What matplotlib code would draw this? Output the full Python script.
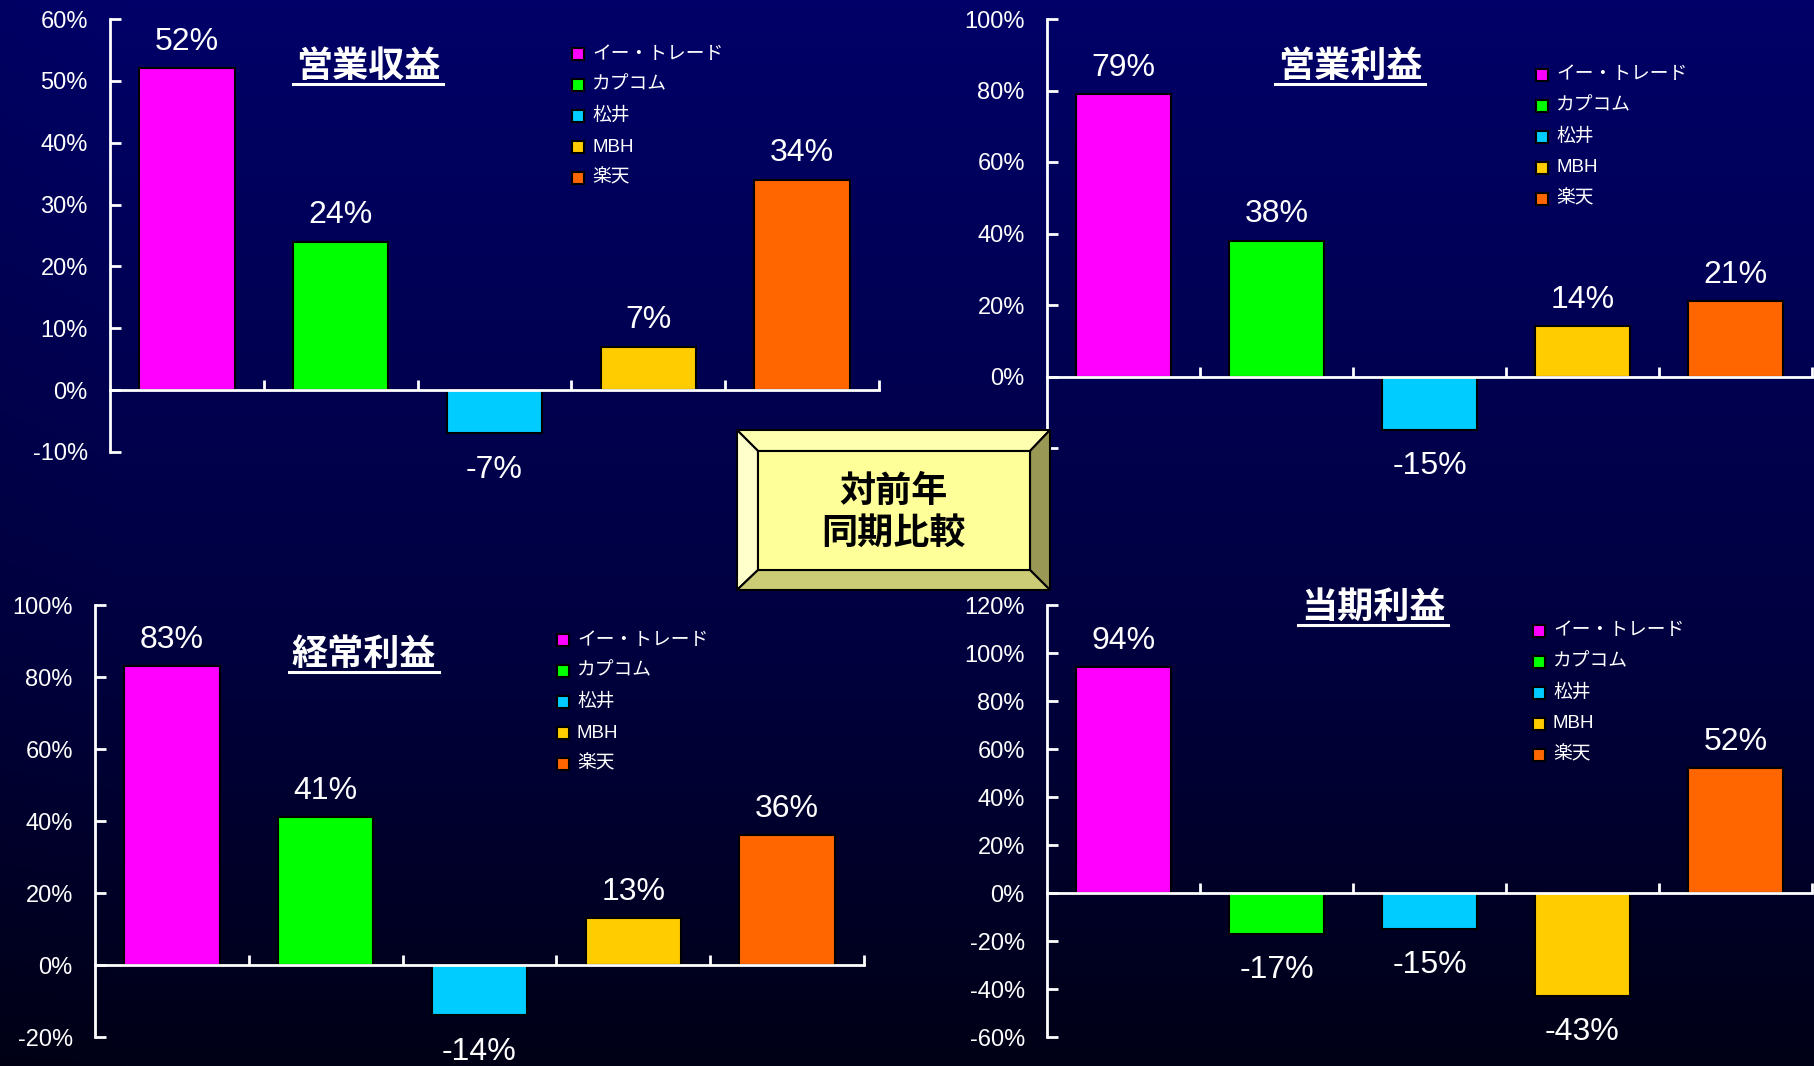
import numpy as np
import matplotlib
matplotlib.use("Agg")
import matplotlib.pyplot as plt
from matplotlib.patches import Rectangle, Polygon
from matplotlib import font_manager as fm

# ---------------- data ----------------
companies = ["イー・トレード", "カプコム", "松井", "MBH", "楽天"]
colors = ["#FF00FF", "#00FF00", "#00CCFF", "#FFCC00", "#FF6600"]

titles = ["営業収益", "営業利益", "経常利益", "当期利益"]
revenue = [52, 24, -7, 7, 34]
op_profit = [79, 38, -15, 14, 21]
ord_profit = [83, 41, -14, 13, 36]
net_profit = [94, -17, -15, -43, 52]
series = [revenue, op_profit, ord_profit, net_profit]

ylims = [(-10, 60), (-20, 100), (-20, 100), (-60, 120)]
ysteps = [10, 20, 20, 20]
center_text = "対前年\n同期比較"

# ---------------- layout (pixels) ----------------
W, H = 1814, 1066
DPI = 100
# (left, right, top, bottom) of each plot area in pixels
boxes = [(110, 879, 19, 452), (1047, 1812, 19, 448),
         (95, 864, 605, 1037), (1047, 1812, 605, 1037)]
title_pos = [(368, 66), (1350, 66), (364, 654), (1373, 607)]
legend_pos = [(578, 54), (1542, 75), (563, 640), (1539, 631)]
legend_step = 31

names = {f.name for f in fm.fontManager.ttflist}
num_font = "Liberation Sans Narrow" if "Liberation Sans Narrow" in names else "Liberation Sans"
lat = "Liberation Sans"
cjk = "Noto Sans CJK JP"

fig = plt.figure(figsize=(W / DPI, H / DPI), dpi=DPI)

# background gradient
bg = fig.add_axes([0, 0, 1, 1], zorder=-10)
ys = np.linspace(0, 1, 300)[:, None]
xs = np.linspace(0, 1, 400)[None, :]
blue = np.interp(ys, [0, 0.6, 1.0], [104, 64, 22])
hfac = 0.72 + 0.28 * np.clip(xs * W / 120, 0, 1)
blue_img = blue * (0.85 + 0.15 * hfac)
img = np.zeros((300, 400, 3))
img[..., 2] = blue_img / 255.0
bg.imshow(img, aspect="auto", extent=[0, 1, 0, 1], origin="upper")
bg.set_xlim(0, 1)
bg.set_ylim(0, 1)
bg.axis("off")


def fx(px):
    return px / W


def fy(py):
    return 1 - py / H


for i in range(4):
    l, r, t, b = boxes[i]
    ax = fig.add_axes([fx(l), fy(b), (r - l) / W, (b - t) / H])
    ax.set_facecolor("none")
    vals = series[i]
    x = np.arange(len(vals))
    ax.bar(x, vals, width=0.62, color=colors, edgecolor="black", linewidth=1.5, zorder=3)
    lo, hi = ylims[i]
    ax.set_ylim(lo, hi)
    ax.set_xlim(-0.5, len(vals) - 0.5)
    ax.set_yticks(np.arange(lo, hi + 1, ysteps[i]))
    ax.set_yticklabels([f"{v}%" for v in np.arange(lo, hi + 1, ysteps[i])],
                       fontfamily=lat, fontsize=17, color="white")
    ax.set_xticks(np.arange(len(vals)) + 0.5)
    ax.set_xticklabels([])
    for s in ["top", "right"]:
        ax.spines[s].set_visible(False)
    ax.spines["left"].set_color("white")
    ax.spines["left"].set_linewidth(2)
    ax.spines["bottom"].set_color("white")
    ax.spines["bottom"].set_linewidth(2)
    ax.spines["bottom"].set_position(("data", 0))
    ax.spines["bottom"].set_zorder(4)
    ax.tick_params(axis="y", direction="in", length=8, width=2, color="white", pad=16)
    ax.tick_params(axis="x", direction="in", length=7, width=2, color="white")
    for xi, v in zip(x, vals):
        off = 19 if v >= 0 else -26
        ax.annotate(f"{v}%", (xi, v), xytext=(0, off), textcoords="offset points",
                    ha="center", va="center", color="white", fontsize=23,
                    fontfamily=num_font, annotation_clip=False)

    # title with underline
    tx, ty = title_pos[i]
    fig.text(fx(tx), fy(ty), titles[i], ha="center", va="center", color="white",
             fontsize=26, fontweight="bold", fontfamily=cjk)
    fig.add_artist(plt.Line2D([fx(tx - 75), fx(tx + 75)], [fy(ty + 18), fy(ty + 18)],
                              color="white", lw=2.2))

    # legend
    lx, ly = legend_pos[i]
    for k, (name, c) in enumerate(zip(companies, colors)):
        yy = ly + k * legend_step
        fig.add_artist(Rectangle((fx(lx - 6), fy(yy + 6)), 12 / W, 12 / H,
                                 transform=fig.transFigure, facecolor=c,
                                 edgecolor="black", linewidth=1.5))
        fig.text(fx(lx + 14), fy(yy), name, ha="left", va="center", color="white",
                 fontsize=13.5, fontfamily=[lat, cjk])

# center bevelled box
bx = fig.add_axes([0, 0, 1, 1], zorder=20)
bx.set_xlim(0, W)
bx.set_ylim(H, 0)
bx.axis("off")
ox0, ox1, oy0, oy1 = 737, 1050, 430, 590
ix0, ix1, iy0, iy1 = 758, 1030, 451, 570
ek = dict(edgecolor="black", linewidth=1.5)
bx.add_patch(Polygon([(ox0, oy0), (ox1, oy0), (ix1, iy0), (ix0, iy0)], closed=True,
                     facecolor="#FFFFB0", **ek))
bx.add_patch(Polygon([(ox0, oy0), (ix0, iy0), (ix0, iy1), (ox0, oy1)], closed=True,
                     facecolor="#FFFFCC", **ek))
bx.add_patch(Polygon([(ox1, oy0), (ox1, oy1), (ix1, iy1), (ix1, iy0)], closed=True,
                     facecolor="#999955", **ek))
bx.add_patch(Polygon([(ox0, oy1), (ix0, iy1), (ix1, iy1), (ox1, oy1)], closed=True,
                     facecolor="#CCCC77", **ek))
bx.add_patch(Rectangle((ix0, iy0), ix1 - ix0, iy1 - iy0, facecolor="#FFFF99", **ek))
bx.text((ix0 + ix1) / 2, (iy0 + iy1) / 2 + 2, center_text, ha="center", va="center",
        fontsize=26, fontweight="bold", fontfamily=cjk, color="black", linespacing=1.15)

fig.savefig("out.png", dpi=DPI)
